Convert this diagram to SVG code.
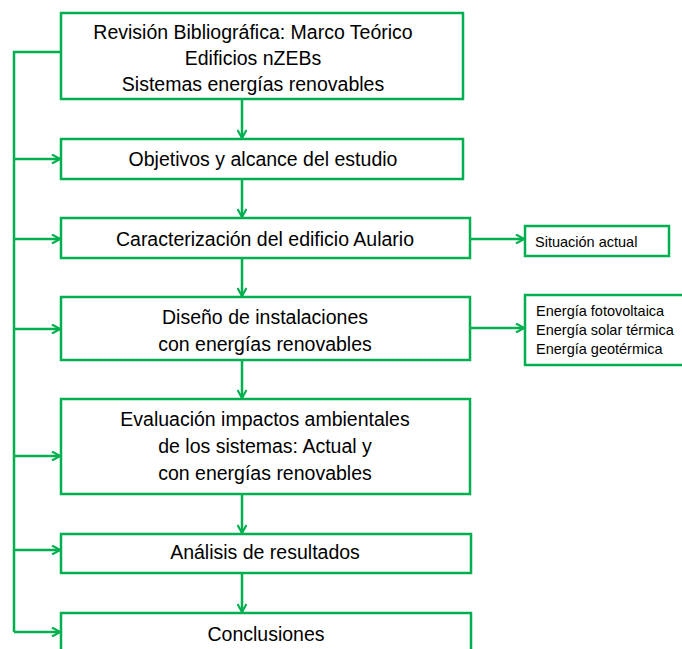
<svg xmlns="http://www.w3.org/2000/svg" width="682" height="649" viewBox="0 0 682 649">
<defs>
<marker id="ah" viewBox="0 0 10 10" refX="9" refY="5" markerWidth="10" markerHeight="10" markerUnits="userSpaceOnUse" orient="auto">
<path d="M1,0.5 L9,5 L1,9.5" fill="none" stroke="#00B050" stroke-width="2.2"/>
</marker>
</defs>
<style>
.box{fill:#fff;stroke:#00B050;stroke-width:2.5}
.c{fill:none;stroke:#00B050;stroke-width:2.5}
.a{marker-end:url(#ah)}
.t{font-family:"Liberation Sans",Arial,sans-serif;font-size:19.5px;fill:#000;text-anchor:middle}
.s{font-family:"Liberation Sans",Arial,sans-serif;font-size:14.5px;fill:#000}
</style>
<rect width="682" height="649" fill="#fff"/>
<g id="connectors">
<path class="c" d="M61,52 H14 V632"/>
<path class="c a" d="M14,159 H60"/>
<path class="c a" d="M14,239 H60"/>
<path class="c a" d="M14,329 H60"/>
<path class="c a" d="M14,456 H60"/>
<path class="c a" d="M14,550 H60"/>
<path class="c a" d="M14,632 H60"/>
<path class="c a" d="M242,99 V138"/>
<path class="c a" d="M242,179 V217"/>
<path class="c a" d="M242,258 V296"/>
<path class="c a" d="M242,360 V398"/>
<path class="c a" d="M242,494 V533"/>
<path class="c a" d="M242,573 V612"/>
<path class="c a" d="M470,239 H524"/>
<path class="c a" d="M470,328 H524"/>
</g>
<g id="n1"><rect class="box" x="61" y="13" width="402" height="86"/>
<text class="t" x="253" y="39">Revisión Bibliográfica: Marco Teórico</text>
<text class="t" x="253" y="65">Edificios nZEBs</text>
<text class="t" x="253" y="91">Sistemas energías renovables</text></g>
<g id="n2"><rect class="box" x="61" y="139" width="402" height="40"/>
<text class="t" x="263" y="166">Objetivos y alcance del estudio</text></g>
<g id="n3"><rect class="box" x="61" y="218" width="409" height="40"/>
<text class="t" x="265" y="246">Caracterización del edificio Aulario</text></g>
<g id="n4"><rect class="box" x="61" y="297" width="409" height="63"/>
<text class="t" x="265" y="324">Diseño de instalaciones</text>
<text class="t" x="265" y="351">con energías renovables</text></g>
<g id="n5"><rect class="box" x="61" y="399" width="409" height="95"/>
<text class="t" x="265" y="426">Evaluación impactos ambientales</text>
<text class="t" x="265" y="453">de los sistemas: Actual y</text>
<text class="t" x="265" y="480">con energías renovables</text></g>
<g id="n6"><rect class="box" x="61" y="534" width="410" height="39"/>
<text class="t" x="265" y="559">Análisis de resultados</text></g>
<g id="n7"><rect class="box" x="61" y="613" width="410" height="45"/>
<text class="t" x="266" y="641">Conclusiones</text></g>
<g id="n8"><rect class="box" x="525" y="226" width="144" height="30"/>
<text class="s" x="535" y="247">Situación actual</text></g>
<g id="n9"><rect class="box" x="525" y="295" width="160" height="70"/>
<text class="s" x="536" y="316">Energía fotovoltaica</text>
<text class="s" x="536" y="335">Energía solar térmica</text>
<text class="s" x="536" y="354">Energía geotérmica</text></g>
</svg>
